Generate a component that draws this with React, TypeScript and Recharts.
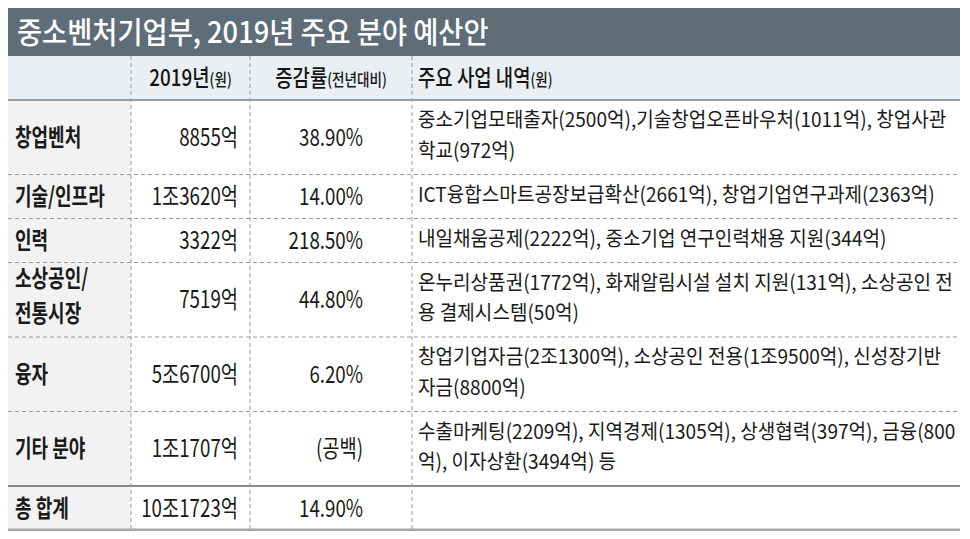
import { ComposedChart, XAxis, YAxis, Scatter, ReferenceArea, ReferenceLine } from 'recharts';

const title = '중소벤처기업부, 2019년 주요 분야 예산안';
const headerMain = ['2019년', '증감률', '주요 사업 내역'];
const headerSub = ['(원)', '(전년대비)', '(원)'];
const categories = [['창업벤처'], ['기술/인프라'], ['인력'], ['소상공인/', '전통시장'], ['융자'], ['기타 분야'], ['총 합계']];
const budgets = ['8855억', '1조3620억', '3322억', '7519억', '5조6700억', '1조1707억', '10조1723억'];
const growthRates = ['38.90%', '14.00%', '218.50%', '44.80%', '6.20%', '(공백)', '14.90%'];
const details = [
  ['중소기업모태출자(2500억),기술창업오픈바우처(1011억), 창업사관', '학교(972억)'],
  ['ICT융합스마트공장보급확산(2661억), 창업기업연구과제(2363억)'],
  ['내일채움공제(2222억), 중소기업 연구인력채용 지원(344억)'],
  ['온누리상품권(1772억), 화재알림시설 설치 지원(131억), 소상공인 전', '용 결제시스템(50억)'],
  ['창업기업자금(2조1300억), 소상공인 전용(1조9500억), 신성장기반', '자금(8800억)'],
  ['수출마케팅(2209억), 지역경제(1305억), 상생협력(397억), 금융(800', '억), 이자상환(3494억) 등'],
  [],
];

// layout
const W = 954;
const H = 523;
const TITLE_H = 48;
const HEAD_H = 44;
const ROW_BASE = 13.5;
const LINE_H = 30.5;
const DETAIL_GAP = 30.5;
const LABEL_GAP = 35;
const COLS = [0, 123, 242, 404, 952];
const FONT = "'Noto Sans CJK KR', 'Noto Sans', sans-serif";

const rowTops: number[] = [];
const rowBottoms: number[] = [];
let cursor = TITLE_H + HEAD_H;
categories.forEach((label, i) => {
  const lines = Math.max(label.length, details[i].length, 1);
  rowTops.push(cursor);
  cursor += ROW_BASE + LINE_H * lines;
  rowBottoms.push(cursor);
});
const rowMid = (i: number) => (rowTops[i] + rowBottoms[i]) / 2;

const spread = (n: number, gap: number) => Array.from({ length: n }, (_, k) => (k - (n - 1) / 2) * gap);

const titleCells = [{ x: 9, y: TITLE_H / 2, text: title }];
const headerCells = [
  { x: (COLS[1] + COLS[2]) / 2, y: TITLE_H + HEAD_H / 2, text: headerMain[0], sub: headerSub[0], anchor: 'middle' },
  { x: (COLS[2] + COLS[3]) / 2, y: TITLE_H + HEAD_H / 2, text: headerMain[1], sub: headerSub[1], anchor: 'middle' },
  { x: COLS[3] + 6, y: TITLE_H + HEAD_H / 2, text: headerMain[2], sub: headerSub[2], anchor: 'start' },
];
const labelCells = categories.flatMap((label, i) =>
  spread(label.length, LABEL_GAP).map((off, k) => ({ x: 7, y: rowMid(i) + off - (label.length > 1 ? 4 : 0), text: label[k] }))
);
const budgetCells = budgets.map((b, i) => ({ x: COLS[2] - 12, y: rowMid(i), text: b }));
const growthCells = growthRates.map((g, i) => ({ x: COLS[3] - 49, y: rowMid(i), text: g }));
const detailCells = details.flatMap((d, i) =>
  spread(d.length, DETAIL_GAP).map((off, k) => ({ x: COLS[3] + 6, y: rowMid(i) + off - 2, text: d[k] }))
);

type Style = { size: number; weight: number; fill: string; sx: number; anchor?: string };

const textShape = (style: Style) => (props: any) => {
  const { cx, cy, payload } = props;
  const anchor = payload.anchor || style.anchor || 'start';
  return (
    <text
      transform={`translate(${cx},${cy}) scale(${style.sx},1)`}
      textAnchor={anchor}
      dy="0.36em"
      fontSize={style.size}
      fontWeight={style.weight}
      fill={style.fill}
      fontFamily={FONT}
    >
      {payload.text}
      {payload.sub && <tspan fontSize={style.size * 0.72}>{payload.sub}</tspan>}
    </text>
  );
};

const LINE = '#9a9a9a';

export default function App() {
  return (
    <div style={{ width: W, height: H, background: '#fff' }}>
      <ComposedChart width={W} height={H} margin={{ top: 0, right: 0, bottom: 0, left: 0 }}>
        <XAxis type="number" dataKey="x" domain={[0, W]} hide allowDataOverflow />
        <YAxis type="number" dataKey="y" domain={[0, H]} reversed hide allowDataOverflow />

        <ReferenceArea x1={COLS[0]} x2={COLS[4]} y1={0} y2={TITLE_H} fill="#5e6d77" fillOpacity={1} />
        <ReferenceArea x1={COLS[0]} x2={COLS[4]} y1={TITLE_H} y2={TITLE_H + HEAD_H} fill="#e9eff2" fillOpacity={1} />
        <ReferenceArea x1={COLS[0]} x2={COLS[1]} y1={TITLE_H + HEAD_H} y2={rowBottoms[rowBottoms.length - 1]} fill="#f2f2f2" fillOpacity={1} />

        {rowBottoms.slice(0, -2).map((y, i) => (
          <ReferenceLine key={`h${i}`} segment={[{ x: COLS[0], y }, { x: COLS[4], y }]} stroke={LINE} strokeDasharray="4 3" />
        ))}
        <ReferenceLine segment={[{ x: COLS[0], y: TITLE_H + HEAD_H }, { x: COLS[4], y: TITLE_H + HEAD_H }]} stroke="#7f7f7f" strokeWidth={1.5} />
        <ReferenceLine segment={[{ x: COLS[0], y: rowTops[rowTops.length - 1] }, { x: COLS[4], y: rowTops[rowTops.length - 1] }]} stroke="#8a8a8a" strokeWidth={2} />
        {COLS.slice(1, 4).map((x) => (
          <ReferenceLine key={`v${x}`} segment={[{ x, y: TITLE_H }, { x, y: rowBottoms[rowBottoms.length - 1] }]} stroke={LINE} strokeDasharray="4 3" />
        ))}
        <ReferenceLine segment={[{ x: COLS[0], y: rowBottoms[rowBottoms.length - 1] }, { x: COLS[4], y: rowBottoms[rowBottoms.length - 1] }]} stroke="#a8a8a8" strokeWidth={3} />

        <Scatter data={titleCells} isAnimationActive={false} shape={textShape({ size: 30, weight: 500, fill: '#ffffff', sx: 0.91 })} />
        <Scatter data={headerCells} isAnimationActive={false} shape={textShape({ size: 23, weight: 500, fill: '#151515', sx: 0.82 })} />
        <Scatter data={labelCells} isAnimationActive={false} shape={textShape({ size: 24, weight: 700, fill: '#1a1a1a', sx: 0.75 })} />
        <Scatter data={budgetCells} isAnimationActive={false} shape={textShape({ size: 24, weight: 400, fill: '#1a1a1a', sx: 0.78, anchor: 'end' })} />
        <Scatter data={growthCells} isAnimationActive={false} shape={textShape({ size: 24, weight: 400, fill: '#1a1a1a', sx: 0.78, anchor: 'end' })} />
        <Scatter data={detailCells} isAnimationActive={false} shape={textShape({ size: 20.5, weight: 400, fill: '#1a1a1a', sx: 0.93 })} />
      </ComposedChart>
    </div>
  );
}
